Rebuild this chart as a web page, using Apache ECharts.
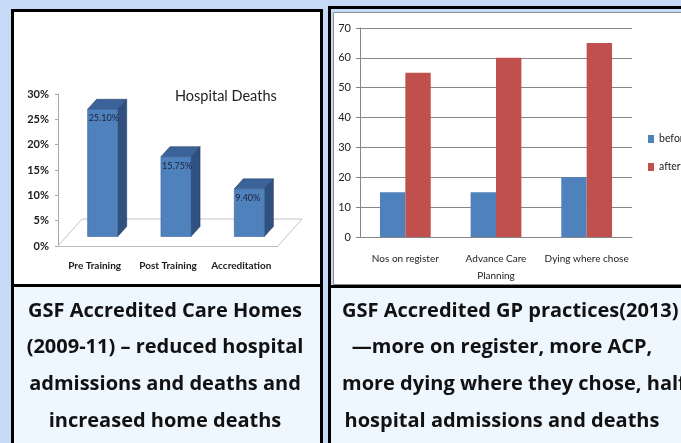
<!DOCTYPE html>
<html>
<head>
<meta charset="utf-8">
<script src="https://cdn.jsdelivr.net/npm/echarts@6/dist/echarts.min.js"></script>
<style>
html, body { margin: 0; padding: 0; background: #c6d9f7; }
#main { width: 681px; height: 443px; }
</style>
</head>
<body>
<div id="main"></div>
<script>
// left panel: care homes, hospital deaths (%)
const stageNames = ['Pre Training', 'Post Training', 'Accreditation']
const hospitalDeaths = [25.10, 15.75, 9.40]

// right panel: GP practices before / after
const gpMeasures = ['Nos on register', 'Advance Care\nPlanning', 'Dying where chose']
const beforeValues = [15, 15, 20]
const afterValues = [55, 60, 65]
const seriesNames = ['before', 'after']

const captionLeft = [
  'GSF Accredited Care Homes',
  '(2009-11) \u2013 reduced hospital',
  'admissions and deaths and',
  'increased home deaths',
]
const captionRight = [
  'GSF Accredited GP practices(2013)',
  '\u2014more on register, more ACP,',
  'more dying where they chose, half',
  'hospital admissions and deaths',
]

const chartFont = 'Lato, sans-serif'
const capFont = '"Open Sans", sans-serif'

// 3d-ish bar for the left chart
function renderBar3d(params, api) {
  const i = params.dataIndex
  const base = api.coord([i, 0])
  const top = api.coord([i, api.value(1)])
  const catW = api.size([1, 0])[0]
  const w = catW * 0.41
  const sx = 8, sy = -9.5
  const dx = 9, dy = -10
  const x0 = base[0] - w / 2 + sx
  const x1 = x0 + w
  const yb = base[1] + sy
  const yt = top[1] + sy
  const children = []
  if (i === 0) {
    const fl = base[0] - catW / 2
    const fr = fl + catW * 3
    children.push({
      type: 'polyline',
      shape: { points: [[fl, base[1]], [fl + 24, base[1] - 27], [fr + 24, base[1] - 27], [fr, base[1]]] },
      style: { stroke: '#c4c4c4', lineWidth: 1, fill: null },
      silent: true,
    })
  }
  children.push({
    type: 'polygon',
    shape: { points: [[x1, yt], [x1 + dx, yt + dy], [x1 + dx, yb + dy], [x1, yb]] },
    style: { fill: '#30507f', stroke: '#263f66', lineWidth: 0.6 },
  })
  children.push({
    type: 'polygon',
    shape: { points: [[x0, yt], [x0 + dx, yt + dy], [x1 + dx, yt + dy], [x1, yt]] },
    style: { fill: '#3c6399', stroke: '#263f66', lineWidth: 0.6 },
  })
  children.push({
    type: 'rect',
    shape: { x: x0, y: yt, width: w, height: yb - yt },
    style: { fill: '#4f81bd', stroke: '#3a6296', lineWidth: 0.6 },
  })
  children.push({
    type: 'text',
    style: {
      x: x0 + 1, y: yt + 9,
      text: api.value(1).toFixed(2) + '%',
      fill: '#1b1f3a', font: '9px ' + chartFont,
      verticalAlign: 'middle', align: 'left',
    },
  })
  return { type: 'group', children }
}

const chart = echarts.init(document.getElementById('main'))

const capGraphics = []
captionLeft.forEach((t, k) => {
  capGraphics.push({
    type: 'text', z: 10,
    style: { x: 165, y: 311 + k * 36.7, text: t, fill: '#111', font: 'bold 20px ' + capFont, align: 'center', verticalAlign: 'middle' },
  })
})
captionRight.forEach((t, k) => {
  const leftAligned = k === 0 || k === 2
  capGraphics.push({
    type: 'text', z: 10,
    style: {
      x: leftAligned ? 342 : 502, y: 311 + k * 36.7, text: t, fill: '#111',
      font: 'bold 20px ' + capFont, align: leftAligned ? 'left' : 'center', verticalAlign: 'middle',
    },
  })
})

chart.setOption({
  backgroundColor: '#c6d9f7',
  animation: false,
  graphic: [
    { type: 'rect', z: -10, shape: { x: 12.5, y: 10.5, width: 309, height: 275 }, style: { fill: '#fff', stroke: '#000', lineWidth: 3 } },
    { type: 'rect', z: -10, shape: { x: 12.5, y: 285.5, width: 309, height: 170 }, style: { fill: '#eef6fe', stroke: '#000', lineWidth: 3 } },
    { type: 'rect', z: -10, shape: { x: 329.5, y: 7.5, width: 400, height: 279 }, style: { fill: '#c6d9f7', stroke: '#000', lineWidth: 3 } },
    { type: 'rect', z: -9, shape: { x: 333.5, y: 12.5, width: 400, height: 272 }, style: { fill: '#fff', stroke: '#8e8e8e', lineWidth: 1 } },
    { type: 'rect', z: -10, shape: { x: 329.5, y: 286.5, width: 400, height: 170 }, style: { fill: '#eef6fe', stroke: '#000', lineWidth: 3 } },
  ].concat(capGraphics),
  title: {
    text: 'Hospital Deaths',
    left: 170, top: 84,
    textStyle: { fontFamily: chartFont, fontSize: 14.5, fontWeight: 'normal', color: '#222' },
  },
  legend: {
    data: seriesNames,
    orient: 'vertical',
    left: 648, top: 132,
    padding: 0,
    itemWidth: 6, itemHeight: 8, itemGap: 14,
    icon: 'rect',
    textStyle: { fontFamily: chartFont, fontSize: 10.5, color: '#222', lineHeight: 14 },
  },
  grid: [
    { left: 58, top: 94, width: 220, height: 152 },
    { left: 360, top: 28, width: 272, height: 209 },
  ],
  xAxis: [{
    gridIndex: 0,
    type: 'category',
    data: stageNames,
    axisLine: { lineStyle: { color: '#bcbcbc' } },
    axisTick: { length: 4, lineStyle: { color: '#bcbcbc' } },
    axisLabel: { interval: 0, margin: 15, fontFamily: chartFont, fontSize: 10, fontWeight: 'bold', color: '#1a1a1a' },
  }, {
    gridIndex: 1,
    type: 'category',
    data: gpMeasures,
    axisLine: { lineStyle: { color: '#868686' } },
    axisTick: { length: 4, lineStyle: { color: '#868686' } },
    axisLabel: { interval: 0, margin: 13, fontFamily: chartFont, fontSize: 10, color: '#222', lineHeight: 17 },
  }],
  yAxis: [{
    gridIndex: 0,
    type: 'value',
    min: 0, max: 30, interval: 5,
    axisLine: { show: true, lineStyle: { color: '#a8a8a8' } },
    axisTick: { show: true, length: 3, lineStyle: { color: '#a8a8a8' } },
    splitLine: { show: false },
    axisLabel: { margin: 9, formatter: '{value}%', fontFamily: chartFont, fontSize: 11, fontWeight: 'bold', color: '#1a1a1a' },
  }, {
    gridIndex: 1,
    type: 'value',
    min: 0, max: 70, interval: 10,
    axisLine: { show: true, lineStyle: { color: '#868686' } },
    axisTick: { show: true, length: 4, lineStyle: { color: '#868686' } },
    splitLine: { lineStyle: { color: '#868686' } },
    axisLabel: { margin: 9, fontFamily: chartFont, fontSize: 11, color: '#222' },
  }],
  series: [{
    type: 'custom',
    xAxisIndex: 0, yAxisIndex: 0,
    renderItem: renderBar3d,
    data: hospitalDeaths.map((v, i) => [i, v]),
  }, {
    name: seriesNames[0],
    type: 'bar',
    xAxisIndex: 1, yAxisIndex: 1,
    barWidth: '28%', barGap: '0%',
    itemStyle: { color: '#4f81bd' },
    data: beforeValues,
  }, {
    name: seriesNames[1],
    type: 'bar',
    xAxisIndex: 1, yAxisIndex: 1,
    barWidth: '28%', barGap: '0%',
    itemStyle: { color: '#c0504d' },
    data: afterValues,
  }],
})
</script>
</body>
</html>
